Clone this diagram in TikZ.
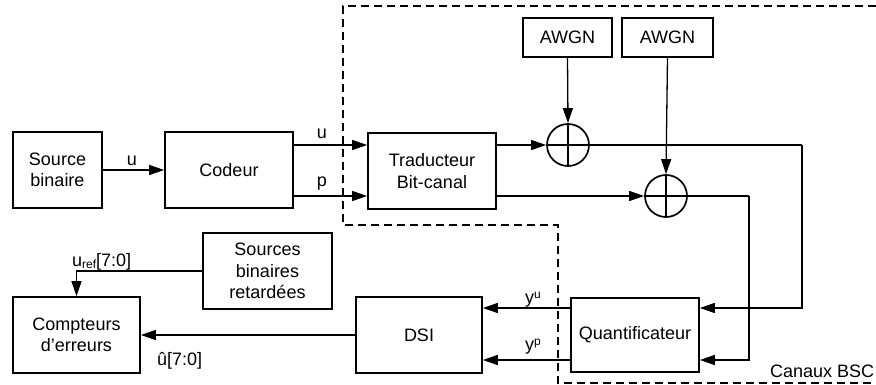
\documentclass[tikz,border=0pt]{standalone}
\usepackage{fontspec}
\setmainfont{Liberation Sans}
\usetikzlibrary{arrows.meta,calc}
\begin{document}
\begin{tikzpicture}[x=1pt,y=-1pt,
  every node/.style={font=\fontsize{18}{21.5}\selectfont},
  blk/.style n args={2}{draw,line width=1.7pt,minimum width=#1pt,minimum height=#2pt,align=center,inner sep=0pt},
  adder/.style={draw,circle,line width=1.7pt,minimum size=42pt,inner sep=0pt,
    path picture={\draw[line width=1.5pt] (path picture bounding box.north) -- (path picture bounding box.south)
      (path picture bounding box.west) -- (path picture bounding box.east);}},
  conn/.style={line width=1.3pt},
  arr/.style={conn,-{Triangle[length=15pt,width=10pt]}},
  dashedbox/.style={line width=1.4pt,dash pattern=on 8pt off 5pt},
  lbl/.style={inner sep=0pt}
]
\useasboundingbox (0,0) rectangle (876,385);

% blocks
\node[blk={89}{76}] (src) at (57.5,170) {Source\\binaire};
\node[blk={128}{76}] (cod) at (229,170) {Codeur};
\node[blk={128}{76}] (trad) at (432,171) {Traducteur\\Bit-canal};
\node[blk={89}{39}] (awgn1) at (567.5,37.5) {AWGN};
\node[blk={91}{39}] (awgn2) at (667.5,37.5) {AWGN};
\node[adder] (add1) at (568,145) {};
\node[adder] (add2) at (666,196) {};
\node[blk={128}{74}] (quant) at (635,335) {Quantificateur};
\node[blk={126}{76}] (dsi) at (419,335) {DSI};
\node[blk={127}{76}] (comp) at (76.5,335) {Compteurs\\d’erreurs};
\node[blk={129}{76}] (srcret) at (267.5,271) {Sources\\binaires\\retardées};

% helper coordinates
\coordinate (yu) at (0,308);
\coordinate (yp) at (0,360);
\coordinate (r1) at (802,145);
\coordinate (r2) at (749,196);

% dashed channel region
\coordinate (d1) at (876,6);
\coordinate (d2) at (343,6);
\coordinate (d3) at (343,225);
\coordinate (d4) at (558,225);
\coordinate (d5) at (558,383);
\coordinate (d6) at (876,383);
\draw[dashedbox] (d1) -- (d2) -- (d3) -- (d4) -- (d5) -- (d6);

% connectors
\draw[arr] (src.east) -- (cod.west |- src.east);
\draw[arr] (cod.east |- add1) -- (trad.west |- add1);
\draw[arr] (cod.east |- add2) -- (trad.west |- add2);
\draw[arr] (trad.east |- add1) -- (add1.west);
\draw[arr] (trad.east |- add2) -- (add2.west);
\draw[arr] (awgn1.south) -- (add1.north);
\draw[arr] (awgn2.south) -- (add2.north);
\draw[conn] (add1.east) -- (r1);
\draw[arr] (r1) -- (r1 |- yu) -- (quant.east |- yu);
\draw[conn] (add2.east) -- (r2);
\draw[arr] (r2) -- (r2 |- yp) -- (quant.east |- yp);
\draw[arr] (quant.west |- yu) -- (dsi.east |- yu);
\draw[arr] (quant.west |- yp) -- (dsi.east |- yp);
\draw[arr] (dsi.west) -- (comp.east |- dsi.west);
\draw[arr] (srcret.west) -| (comp.north);

% labels
\node[lbl] (lu0) at (132,161) {u};
\node[lbl] (lu1) at (322,134) {u};
\node[lbl] (lp1) at (322,184) {p};
\node[lbl,anchor=base west] (luref) at (72,266) {u\raisebox{-0.3ex}{\fontsize{12}{12}\selectfont ref}[7:0]};
\node[lbl,anchor=base west] (luhat) at (157,365) {û[7:0]};
\node[lbl,anchor=base west] (lyu) at (525,303) {y\raisebox{0.45ex}{\fontsize{12}{12}\selectfont u}};
\node[lbl,anchor=base west] (lyp) at (525,350) {y\raisebox{0.45ex}{\fontsize{12}{12}\selectfont p}};
\node[lbl,anchor=base west] (lbsc) at (770,377) {Canaux BSC};
\end{tikzpicture}
\end{document}
